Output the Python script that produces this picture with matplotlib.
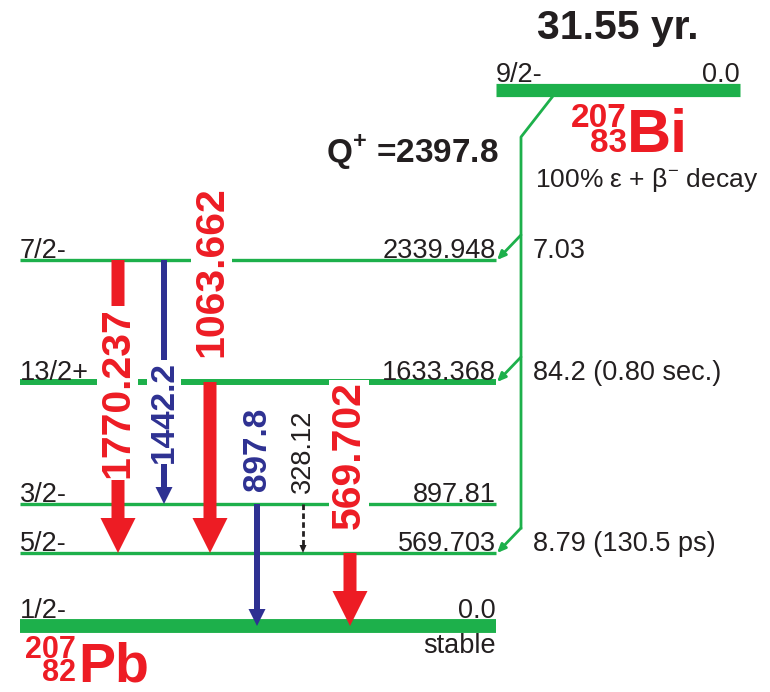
# Decay scheme of 207Bi -> 207Pb, drawn in pixel coordinates.
import matplotlib
matplotlib.use("Agg")
import matplotlib.pyplot as plt
from matplotlib.patches import FancyArrow

plt.rcParams['font.family'] = ['Liberation Sans', 'DejaVu Sans']
plt.rcParams['mathtext.fontset'] = 'custom'
plt.rcParams['mathtext.rm'] = 'Liberation Sans'
plt.rcParams['mathtext.bf'] = 'Liberation Sans:bold'

GREEN = '#1db04b'
RED = '#ed1c24'
BLUE = '#2e3192'
INK = '#231f20'

# Daughter (207Pb) levels
level_energy = ['0.0', '569.703', '897.81', '1633.368', '2339.948']
level_spin = ['1/2-', '5/2-', '3/2-', '13/2+', '7/2-']
feed_label = ['', '8.79 (130.5 ps)', '', '84.2 (0.80 sec.)', '7.03']
fed = [False, True, False, True, True]

# Parent (207Bi)
parent_spin = '9/2-'
parent_energy = '0.0'
half_life = '31.55 yr.'
q_value = '2397.8'

# Gamma transitions: label, from level, to level, kind
gamma_label = ['1770.237', '1442.2', '1063.662', '897.8', '328.12', '569.702']
gamma_from = [4, 4, 3, 2, 2, 1]
gamma_to = [1, 2, 1, 0, 1, 0]
gamma_kind = ['strong', 'medium', 'strong', 'medium', 'weak', 'strong']

# layout (pixels)
level_y = [626, 553, 504, 382, 260]
level_lw = [10, 2.4, 2.4, 4.3, 2.4]
x_left, x_right = 20, 496
gamma_x = [118, 164, 210, 257, 303, 350]
label_y = [393, 412, 272, 449, 451, 455]
label_x = [117.5, 164, 211.5, 257.5, 302.5, 349]

style = {
    'strong': dict(color=RED, width=13, hw=35, hl=35, size=29.5, weight='bold'),
    'medium': dict(color=BLUE, width=6, hw=17, hl=17, size=24, weight='bold'),
    'weak': dict(color=INK, width=2.5, hw=7, hl=8, size=19.5, weight='normal'),
}

fig = plt.figure(figsize=(7.7, 6.92), dpi=100)
ax = fig.add_axes([0, 0, 1, 1])
ax.set_xlim(0, 770)
ax.set_ylim(692, 0)
ax.axis('off')

fs = 19.5

# levels
for i in range(len(level_y)):
    y = level_y[i]
    ax.plot([x_left, x_right], [y, y], color=GREEN, lw=level_lw[i],
            solid_capstyle='butt', zorder=1)
    ax.text(x_left, y - 8 if i == 0 else y - 2, level_spin[i], fontsize=fs,
            color=INK, ha='left', va='baseline')
    ax.text(x_right, y - 8 if i == 0 else y - 2, level_energy[i], fontsize=fs,
            color=INK, ha='right', va='baseline')
    if feed_label[i]:
        ax.text(533, y - 2, feed_label[i], fontsize=fs, color=INK,
                ha='left', va='baseline')

ax.text(x_right, 653, 'stable', fontsize=fs, color=INK, ha='right', va='baseline')

# parent level
py = 89.5
ax.plot([496, 740], [py, py], color=GREEN, lw=9.5, solid_capstyle='butt', zorder=1)
ax.text(496, 82, parent_spin, fontsize=fs, color=INK, ha='left', va='baseline')
ax.text(740, 82, parent_energy, fontsize=fs, color=INK, ha='right', va='baseline')
ax.text(618, 39, half_life, fontsize=29.5, fontweight='bold', color=INK,
        ha='center', va='baseline')
ax.text(326, 163, r'Q$^{\mathbf{+}}$ =' + q_value, fontsize=24, fontweight='bold',
        color=INK, ha='left', va='baseline')

# nuclide labels
ax.text(627, 127, '207', fontsize=24, fontweight='bold', color=RED, ha='right', va='baseline')
ax.text(627, 152, '83', fontsize=24, fontweight='bold', color=RED, ha='right', va='baseline')
ax.text(627, 152, 'Bi', fontsize=44, fontweight='bold', color=RED, ha='left', va='baseline')
ax.text(76, 658, '207', fontsize=22, fontweight='bold', color=RED, ha='right', va='baseline')
ax.text(76, 681, '82', fontsize=22, fontweight='bold', color=RED, ha='right', va='baseline')
ax.text(78, 681, 'Pb', fontsize=40, fontweight='bold', color=RED, ha='left', va='baseline')
ax.text(535, 187, r'100% ε + β$^{-}$ decay', fontsize=19, color=INK,
        ha='left', va='baseline')

# feeding from parent
fx = 521
ax.plot([553, fx, fx], [96, 137, level_y[1] - 25], color=GREEN, lw=2, zorder=1)
for i in range(len(level_y)):
    if fed[i]:
        y = level_y[i]
        ax.annotate('', xy=(x_right + 1, y), xytext=(fx, y - 25),
                    arrowprops=dict(arrowstyle='-|>,head_length=0.5,head_width=0.22',
                                    color=GREEN, lw=2, shrinkA=0, shrinkB=0))

# gammas
for i in range(len(gamma_label)):
    st = style[gamma_kind[i]]
    x = gamma_x[i]
    y0 = level_y[gamma_from[i]]
    y1 = level_y[gamma_to[i]]
    if gamma_kind[i] == 'weak':
        ax.plot([x, x], [y0, y1 - st['hl']], color=st['color'], lw=2,
                ls=(0, (2, 1.2)), zorder=2)
        ax.add_patch(FancyArrow(x, y1 - st['hl'], 0, st['hl'], width=0.01,
                                head_width=st['hw'], head_length=st['hl'],
                                length_includes_head=True, color=st['color'],
                                lw=0, zorder=2))
    else:
        ax.add_patch(FancyArrow(x, y0, 0, y1 - y0, width=st['width'],
                                head_width=st['hw'], head_length=st['hl'],
                                length_includes_head=True, color=st['color'],
                                lw=0, zorder=2))
    ax.text(label_x[i], label_y[i], gamma_label[i], rotation=90,
            fontsize=st['size'], fontweight=st['weight'], color=st['color'],
            ha='center', va='center', zorder=3,
            bbox=dict(facecolor='white', edgecolor='none', pad=1))

fig.savefig('out.png', dpi=100)
